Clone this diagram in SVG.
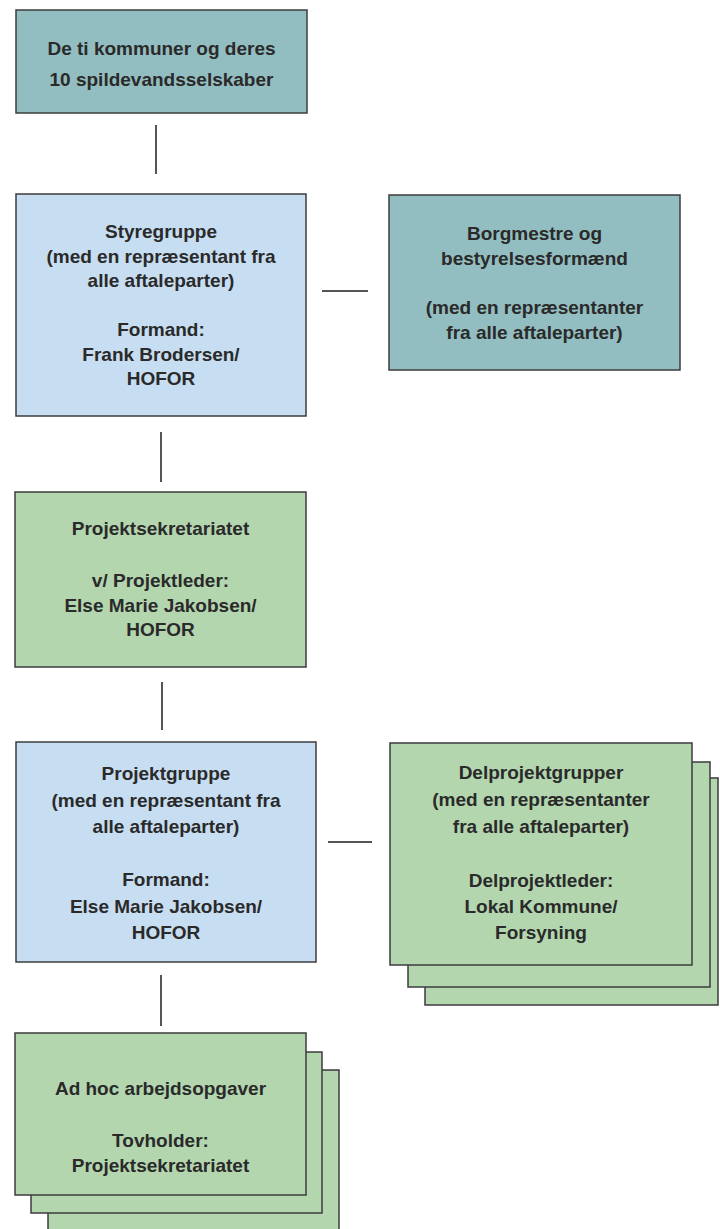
<svg xmlns="http://www.w3.org/2000/svg" width="720" height="1229" viewBox="0 0 720 1229">
<style>
  .box { stroke: #3c3c3c; stroke-width: 1.5; }
  .teal { fill: #93bec1; }
  .blue { fill: #c7ddf1; }
  .green { fill: #b3d6af; }
  .conn { stroke: #555555; stroke-width: 2; fill: none; }
  text { font-family: "Liberation Sans", Arial, sans-serif; font-size: 19px; font-weight: bold; fill: #2a2a2a; text-anchor: middle; }
</style>
<rect width="720" height="1229" fill="#ffffff"/>
<g id="connectors">
  <line class="conn" x1="156" y1="125" x2="156" y2="174"/>
  <line class="conn" x1="322" y1="291" x2="368" y2="291"/>
  <line class="conn" x1="161" y1="432" x2="161" y2="482"/>
  <line class="conn" x1="162" y1="682" x2="162" y2="730"/>
  <line class="conn" x1="328" y1="842" x2="372" y2="842"/>
  <line class="conn" x1="161" y1="975" x2="161" y2="1026"/>
</g>
<g id="node-kommuner">
  <rect class="box teal" x="16" y="10" width="291" height="103"/>
  <text><tspan x="161.5" y="55">De ti kommuner og deres</tspan><tspan x="161.5" y="86">10 spildevandsselskaber</tspan></text>
</g>
<g id="node-styregruppe">
  <rect class="box blue" x="16" y="194" width="290" height="222"/>
  <text><tspan x="161" y="238">Styregruppe</tspan><tspan x="161" y="262.5">(med en repræsentant fra</tspan><tspan x="161" y="287">alle aftaleparter)</tspan><tspan x="161" y="336">Formand:</tspan><tspan x="161" y="360.5">Frank Brodersen/</tspan><tspan x="161" y="385">HOFOR</tspan></text>
</g>
<g id="node-borgmestre">
  <rect class="box teal" x="389" y="195" width="291" height="175"/>
  <text><tspan x="534.5" y="240">Borgmestre og</tspan><tspan x="534.5" y="264.5">bestyrelsesformænd</tspan><tspan x="534.5" y="314">(med en repræsentanter</tspan><tspan x="534.5" y="338.5">fra alle aftaleparter)</tspan></text>
</g>
<g id="node-projektsekretariatet">
  <rect class="box green" x="15" y="492" width="291" height="175"/>
  <text><tspan x="160.5" y="535">Projektsekretariatet</tspan><tspan x="160.5" y="587">v/ Projektleder:</tspan><tspan x="160.5" y="611.5">Else Marie Jakobsen/</tspan><tspan x="160.5" y="636">HOFOR</tspan></text>
</g>
<g id="node-projektgruppe">
  <rect class="box blue" x="16" y="742" width="300" height="220"/>
  <text><tspan x="166" y="780">Projektgruppe</tspan><tspan x="166" y="806.5">(med en repræsentant fra</tspan><tspan x="166" y="833">alle aftaleparter)</tspan><tspan x="166" y="886">Formand:</tspan><tspan x="166" y="912.5">Else Marie Jakobsen/</tspan><tspan x="166" y="939">HOFOR</tspan></text>
</g>
<g id="node-delprojektgrupper">
  <rect class="box green" x="425" y="778" width="293" height="227"/>
  <rect class="box green" x="408" y="762" width="302" height="225"/>
  <rect class="box green" x="390" y="743" width="302" height="222"/>
  <text><tspan x="541" y="779">Delprojektgrupper</tspan><tspan x="541" y="806">(med en repræsentanter</tspan><tspan x="541" y="833">fra alle aftaleparter)</tspan><tspan x="541" y="887">Delprojektleder:</tspan><tspan x="541" y="913">Lokal Kommune/</tspan><tspan x="541" y="939">Forsyning</tspan></text>
</g>
<g id="node-adhoc">
  <rect class="box green" x="48" y="1070" width="291" height="170"/>
  <rect class="box green" x="31" y="1052" width="291" height="161"/>
  <rect class="box green" x="15" y="1033" width="291" height="162"/>
  <text><tspan x="160.5" y="1095">Ad hoc arbejdsopgaver</tspan><tspan x="160.5" y="1147">Tovholder:</tspan><tspan x="160.5" y="1172">Projektsekretariatet</tspan></text>
</g>
</svg>
